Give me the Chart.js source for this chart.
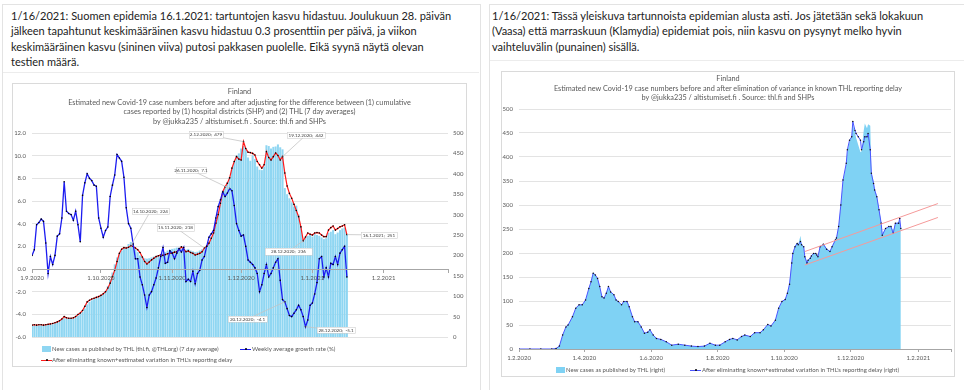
<!DOCTYPE html>
<html>
<head>
<meta charset="utf-8">
<script src="https://cdn.jsdelivr.net/npm/chart.js@4.4.1/dist/chart.umd.min.js"></script>
<style>
  body { margin: 0; width: 964px; height: 390px; overflow: hidden; position: relative; background: #fff; font-family: Lato, sans-serif; }
  .card { position: absolute; border: 1px solid #e3e3e3; background: #fff; }
  .post { position: absolute; font-family: Lato, sans-serif; font-size: 11px; line-height: 15.3px; color: #222; white-space: nowrap; }
  .sep { position: absolute; border-top: 1px solid #ececec; height: 0; }
  .box { position: absolute; box-sizing: border-box; border: 1px solid #dadada; }
  .ttl { position: absolute; text-align: center; color: #595959; font-size: 7.3px; line-height: 10px; white-space: nowrap; }
  .leg { position: absolute; font-size: 6px; line-height: 8px; color: #595959; white-space: nowrap; }
  .sw { position: absolute; }
  canvas { position: absolute; }
</style>
</head>
<body>

<div class="card" style="left:2px;top:4px;width:477px;height:400px"></div>
<div class="card" style="left:489px;top:4px;width:480px;height:400px"></div>

<div class="post" style="left:11px;top:8px">
1/16/2021: Suomen epidemia 16.1.2021: tartuntojen kasvu hidastuu. Joulukuun 28. päivän<br>
jälkeen tapahtunut keskimääräinen kasvu hidastuu 0.3 prosenttiin per päivä, ja viikon<br>
keskimääräinen kasvu (sininen viiva) putosi pakkasen puolelle. Eikä syynä näytä olevan<br>
testien määrä.
</div>
<div class="sep" style="left:3px;top:72px;width:476px"></div>

<div class="post" style="left:492px;top:8px">
1/16/2021: Tässä yleiskuva tartunnoista epidemian alusta asti. Jos jätetään sekä lokakuun<br>
(Vaasa) että marraskuun (Klamydia) epidemiat pois, niin kasvu on pysynyt melko hyvin<br>
vaihteluvälin (punainen) sisällä.
</div>
<div class="sep" style="left:490px;top:60px;width:480px"></div>

<!-- left chart -->
<div class="box" style="left:12px;top:83px;width:455px;height:284px"></div>
<canvas id="leftChart" width="455" height="284" style="left:12px;top:83px"></canvas>
<div class="ttl" style="left:12px;width:455px;top:87px">Finland</div>
<div class="ttl" style="left:12px;width:455px;top:97.5px">Estimated new Covid-19 case numbers before and after adjusting for the difference between (1) cumulative</div>
<div class="ttl" style="left:12px;width:455px;top:107.3px">cases reported by (1) hospital districts (SHP) and (2) THL (7 day averages)</div>
<div class="ttl" style="left:12px;width:455px;top:117.3px">by @jukka235 / altistumiset.fi . Source: thl.fi and SHPs</div>

<div class="sw" style="left:42px;top:346px;width:9px;height:6px;background:#8fd6f2"></div>
<div class="leg" style="left:52px;top:345px">New cases as published by THL (thl.fi, @THLorg) (7 day average)</div>
<div class="sw" style="left:240px;top:348.5px;width:11px;height:1.2px;background:#1c1cf0"></div>
<div class="sw" style="left:244.5px;top:348px;width:2px;height:2px;border-radius:1px;background:#000"></div>
<div class="leg" style="left:252px;top:345px">Weekly average growth rate (%)</div>
<div class="sw" style="left:41px;top:359.5px;width:11px;height:1.2px;background:#ff1a1a"></div>
<div class="sw" style="left:45.5px;top:359px;width:2px;height:2px;border-radius:1px;background:#000"></div>
<div class="leg" style="left:52px;top:356px">After eliminating known+estimated variation in THL's reporting delay</div>

<!-- right chart -->
<div class="box" style="left:501px;top:71px;width:454px;height:306px"></div>
<canvas id="rightChart" width="454" height="306" style="left:501px;top:71px"></canvas>
<div class="ttl" style="left:501px;width:454px;top:74px">Finland</div>
<div class="ttl" style="left:501px;width:454px;top:83.5px">Estimated new Covid-19 case numbers before and after elimination of variance in known THL reporting delay</div>
<div class="ttl" style="left:501px;width:454px;top:93.3px">by @jukka235 / altistumiset.fi . Source: thl.fi and SHPs</div>

<div class="sw" style="left:556px;top:367px;width:9px;height:6px;background:#7fd2f4"></div>
<div class="leg" style="left:566px;top:366px">New cases as published by THL (right)</div>
<div class="sw" style="left:690px;top:369.5px;width:11px;height:1px;background:#4b55ff"></div>
<div class="sw" style="left:694.5px;top:369px;width:2px;height:2px;border-radius:1px;background:#000"></div>
<div class="leg" style="left:702px;top:366px">After eliminating known+estimated variation in THL's reporting delay (right)</div>

<script>
Chart.defaults.font.family = 'Lato';
Chart.defaults.color = '#595959';

// ---------- left chart: days since 1.9.2020 ----------
const thlCases = [
  27, 27, 27, 28, 28, 28, 28, 29, 30, 31,
  33, 35, 38, 42, 46, 45, 44, 44, 45, 48,
  52, 56, 62, 70, 80, 86, 90, 93, 95, 97,
  100, 105, 112, 125, 140, 158, 178, 195, 205, 212,
  216, 220, 228, 233, 224, 215, 208, 200, 196, 193,
  192, 193, 195, 197, 199, 200, 202, 205, 208, 212,
  214, 216, 217, 219, 218, 217, 215, 214, 216, 212,
  210, 208, 209, 212, 215, 218, 224, 232, 245, 260,
  282, 305, 330, 356, 370, 380, 392, 414, 430, 445,
  450, 462, 468, 462, 440, 432, 445, 436, 418, 410,
  409, 418, 470, 468, 462, 466, 467, 472, 465, 460,
  365, 350, 340, 330, 320, 322, 300, 270, 240, 244,
  248, 250, 246, 252, 250, 248, 244, 240, 242, 255,
  258, 262, 252, 256, 262, 266, 268, 250
];
const adjusted = [
  29, 30, 29, 30, 30, 29, 30, 31, 32, 33,
  35, 37, 40, 44, 50, 47, 46, 46, 47, 50,
  55, 59, 65, 75, 86, 90, 93, 95, 97, 99,
  102, 106, 111, 120, 132, 148, 164, 185, 205, 215,
  219, 218, 220, 224, 222, 218, 214, 207, 196, 185,
  179, 184, 189, 193, 197, 199, 201, 200, 202, 204,
  206, 205, 208, 209, 214, 221, 215, 209, 211, 207,
  205, 201, 203, 205, 209, 218, 222, 230, 242, 255,
  279, 300, 328, 356, 368, 377, 390, 414, 430, 442,
  436, 434, 479, 462, 453, 452, 450, 446, 430, 422,
  414, 422, 454, 440, 434, 442, 451, 445, 434, 442,
  402, 370, 352, 340, 325, 310, 295, 270, 236, 245,
  255, 252, 250, 255, 256, 255, 250, 246, 246, 262,
  268, 272, 262, 266, 270, 272, 275, 251
];
const growth = [
  1.2, 1.7, 3.9, 4.1, 4.4, 4.2, 2.3, -0.4, 1.1, 0.4,
  1.2, 2.9, 3.1, 4.5, 7.7, 5.1, 4.9, 4.8, 4.3, 5.1,
  3.9, 2.4, 6.5, 7.6, 8.4, 8.0, 7.8, 7.4, 7.3, 4.5,
  3.6, 2.8, 3.4, 3.7, 6.4, 7.4, 8.3, 10.1, 9.8, 9.5,
  8.1, 5.4, 4.0, 3.6, 2.2, 0.9, 0.9, -0.7, -1.4, -2.3,
  -3.4, -2.3, -2.0, -1.4, -0.8, 0.1, 1.1, 1.9, 0.5, 0.6,
  1.6, 1.4, 0.9, 1.4, 1.8, 1.5, 1.9, -1.1, -0.9, -1.1,
  -0.2, -1.3, -0.4, -0.1, 0.8, 1.1, 2.0, 2.8, 3.1, 3.4,
  4.5, 5.5, 6.1, 6.8, 6.4, 6.7, 7.1, 6.9, 5.6, 4.0,
  3.4, 2.9, 3.0, 2.0, 0.8, 0.6, 0.4, 0.1, -0.4, -2.0,
  -1.4, -0.4, 0.4, -0.7, -0.4, 0.1, 0.6, 0.9, -1.0, -2.7,
  -2.9, -3.5, -4.1, -4.2, -3.9, -3.6, -3.2, -3.6, -4.2, -5.1,
  -4.5, -3.2, -3.0, -2.2, -1.2, 0.9, 1.1, -0.7, 0.1, -0.7,
  0.5, 0.4, 1.1, 0.4, 1.4, 1.7, 2.0, -0.7
];
const daysL = thlCases.map((_, i) => i);
const tickDaysL = [0, 30, 61, 91, 122, 153, 181];
const tickLabelsL = ['1.9.2020', '1.10.2020', '1.11.2020', '1.12.2020', '1.1.2021', '1.2.2021', ''];

// callout labels (day index, series, text)
const calloutsL = [
  { day: 92, series: 'adjusted', text: '2.12.2020;  479' },
  { day: 109, series: 'adjusted', text: '19.12.2020;  442' },
  { day: 86, series: 'growth', text: '26.11.2020;  7.1' },
  { day: 43, series: 'adjusted', text: '14.10.2020;  224' },
  { day: 75, series: 'adjusted', text: '15.11.2020;  218' },
  { day: 118, series: 'adjusted', text: '28.12.2020;  236' },
  { day: 137, series: 'adjusted', text: '16.1.2021;  251' },
  { day: 110, series: 'growth', text: '20.12.2020;  -4.1' },
  { day: 119, series: 'growth', text: '28.12.2020;  -5.1' }
];
// where the label boxes sit on the canvas (x, y, w, h)
const calloutBoxesL = [
  [177, 48, 34, 7], [275, 49, 38, 6], [164, 84, 30, 6],
  [120, 125, 37, 6], [145, 141, 37, 7], [253, 165, 47, 7],
  [349, 149, 36, 6], [216, 233, 39, 6], [305, 244, 38, 6]
];

const seriesL = { adjusted: adjusted, growth: growth };

const calloutPlugin = {
  id: 'callouts',
  afterDraw(chart) {
    const { ctx, scales } = chart;
    ctx.save();
    calloutsL.forEach((c, i) => {
      const [bx, by, bw, bh] = calloutBoxesL[i];
      const ys = c.series === 'growth' ? scales.y : scales.y1;
      const px = scales.x.getPixelForValue(c.day);
      const py = ys.getPixelForValue(seriesL[c.series][c.day]);
      ctx.strokeStyle = '#c4c4c4';
      ctx.lineWidth = 0.8;
      ctx.beginPath();
      ctx.moveTo(bx + bw / 2, by + bh / 2);
      ctx.lineTo(px, py);
      ctx.stroke();
      ctx.fillStyle = '#fff';
      ctx.fillRect(bx, by, bw, bh);
      ctx.strokeStyle = '#cfcfcf';
      ctx.lineWidth = 0.6;
      ctx.strokeRect(bx + 0.5, by + 0.5, bw, bh);
      ctx.fillStyle = '#404040';
      ctx.font = '4.6px Lato';
      ctx.textAlign = 'center';
      ctx.textBaseline = 'middle';
      ctx.fillText(c.text, bx + bw / 2, by + bh / 2 + 0.4);
    });
    ctx.restore();
  }
};

const axisFont = { family: 'Lato', size: 6 };

new Chart(document.getElementById('leftChart'), {
  type: 'bar',
  data: {
    datasets: [
      {
        type: 'line',
        label: 'Weekly average growth rate (%)',
        data: daysL.map((d, i) => ({ x: d, y: growth[i] })),
        yAxisID: 'y',
        borderColor: '#1c1cf0',
        borderWidth: 1.3,
        pointRadius: 0.8,
        pointBackgroundColor: '#000',
        pointBorderWidth: 0,
        order: 1
      },
      {
        type: 'line',
        label: "After eliminating known+estimated variation in THL's reporting delay",
        data: daysL.map((d, i) => ({ x: d, y: adjusted[i] })),
        yAxisID: 'y1',
        borderColor: '#ff1a1a',
        borderWidth: 1.2,
        pointRadius: 0.8,
        pointBackgroundColor: '#000',
        pointBorderWidth: 0,
        order: 2
      },
      {
        type: 'bar',
        label: 'New cases as published by THL (thl.fi, @THLorg) (7 day average)',
        data: daysL.map((d, i) => ({ x: d, y: thlCases[i] })),
        yAxisID: 'y1',
        backgroundColor: '#8fd6f2',
        categoryPercentage: 1,
        barPercentage: 0.88,
        order: 3
      }
    ]
  },
  options: {
    responsive: false,
    animation: false,
    layout: { padding: { top: 50, bottom: 30, left: 0, right: 0 } },
    plugins: { legend: { display: false }, title: { display: false }, tooltip: { enabled: false } },
    scales: {
      x: {
        type: 'linear',
        min: 0,
        max: 181,
        offset: false,
        position: { y: 0 },
        afterBuildTicks: s => { s.ticks = tickDaysL.map(v => ({ value: v })); },
        ticks: {
          z: 1,
          autoSkip: false,
          maxRotation: 0,
          padding: 2,
          font: axisFont,
          callback: v => tickLabelsL[tickDaysL.indexOf(v)]
        },
        grid: { z: 1, drawOnChartArea: false, drawTicks: true, tickLength: 3, color: '#a6a6a6', offset: false },
        border: { z: 1, color: '#a6a6a6' }
      },
      y: {
        position: 'left',
        min: -6,
        max: 12,
        afterFit: s => { s.width = 20; s.paddingTop = 0; s.paddingBottom = 0; },
        ticks: { stepSize: 2, padding: 6, font: axisFont, callback: v => v.toFixed(1) },
        grid: { color: '#e3e3e3', drawTicks: false },
        border: { display: false }
      },
      y1: {
        position: 'right',
        min: 0,
        max: 500,
        afterFit: s => { s.width = 19; s.paddingTop = 0; s.paddingBottom = 0; },
        ticks: { stepSize: 50, padding: 5, font: axisFont },
        grid: { display: false, drawTicks: false },
        border: { display: false }
      }
    }
  },
  plugins: [calloutPlugin]
});

// ---------- right chart: days since 1.2.2020 ----------
const daysR = [
  0, 10, 20, 30, 34, 37, 40, 43, 45, 49, 52, 55, 58, 61, 64, 66, 68, 70, 72, 74,
  76, 78, 80, 82, 84, 87, 89, 91, 94, 96, 99, 101, 104, 106, 109, 112, 115, 118, 120, 123,
  126, 130, 135, 140, 146, 152, 158, 164, 170, 175, 180, 184, 189, 193, 196, 200, 204, 207, 212, 216,
  221, 224, 228, 231, 235, 238, 241, 244, 246, 248, 250, 251, 253, 255, 256, 258, 259, 261, 262, 264,
  265, 267, 268, 270, 272, 273, 274, 276, 279, 282, 285, 287, 290, 291, 293, 295, 297, 300, 301, 303,
  305, 306, 308, 309, 311, 313, 314, 316, 317, 319, 320, 322, 323, 325, 326, 328, 330, 332, 333, 336,
  339, 341, 343, 345, 348, 349, 350
];
const adjustedR = [
  0, 0, 0, 0, 1, 6, 29, 46, 50, 67, 85, 92, 92, 102, 126, 140, 158, 154, 147, 130,
  109, 106, 116, 130, 119, 113, 102, 99, 92, 99, 99, 88, 67, 57, 57, 46, 33, 35, 40, 29,
  22, 20, 15, 8, 10, 8, 6, 5, 6, 12, 8, 8, 15, 20, 22, 19, 26, 29, 26, 34,
  34, 40, 51, 48, 60, 85, 99, 103, 116, 135, 179, 199, 213, 220, 217, 224, 217, 213, 192, 179,
  185, 189, 194, 199, 199, 196, 192, 213, 218, 208, 203, 213, 227, 231, 255, 300, 352, 387, 415, 435,
  442, 474, 455, 449, 442, 435, 415, 432, 442, 442, 449, 415, 366, 345, 331, 317, 290, 262, 237, 251,
  255, 255, 241, 262, 262, 272, 251
];
const publishedR = [
  0, 0, 0, 0, 1, 6, 29, 46, 50, 67, 85, 92, 92, 102, 126, 140, 160, 154, 147, 130,
  109, 106, 116, 132, 119, 113, 102, 99, 92, 99, 99, 88, 67, 57, 57, 46, 33, 35, 40, 29,
  22, 20, 15, 8, 10, 8, 6, 5, 6, 12, 8, 8, 15, 20, 22, 19, 26, 29, 26, 34,
  34, 40, 51, 48, 60, 85, 99, 103, 116, 140, 182, 200, 215, 222, 218, 236, 220, 212, 195, 182,
  186, 190, 195, 200, 198, 196, 192, 214, 220, 210, 204, 214, 228, 232, 256, 300, 350, 385, 412, 432,
  445, 470, 450, 440, 425, 410, 412, 455, 470, 460, 468, 465, 368, 350, 335, 320, 292, 265, 240, 250,
  254, 258, 245, 262, 264, 270, 250
];
// red trend band drawn by the author (start day, end day)
const trendDays = [262, 384];
const trendUpper = [203, 303];
const trendLower = [175, 274];
const tickDaysR = [0, 60, 121, 182, 243, 304, 366, 396];
const tickLabelsR = ['1.2.2020', '1.4.2020', '1.6.2020', '1.8.2020', '1.10.2020', '1.12.2020', '1.2.2021', ''];

new Chart(document.getElementById('rightChart'), {
  type: 'line',
  data: {
    datasets: [
      {
        label: 'upper',
        data: trendDays.map((d, i) => ({ x: d, y: trendUpper[i] })),
        borderColor: '#f59a9a',
        borderWidth: 1,
        pointRadius: 0,
        order: 0
      },
      {
        label: 'lower',
        data: trendDays.map((d, i) => ({ x: d, y: trendLower[i] })),
        borderColor: '#f59a9a',
        borderWidth: 1,
        pointRadius: 0,
        order: 0
      },
      {
        label: "After eliminating known+estimated variation in THL's reporting delay (right)",
        data: daysR.map((d, i) => ({ x: d, y: adjustedR[i] })),
        borderColor: '#4b55ff',
        borderWidth: 1,
        pointRadius: 0.75,
        pointBackgroundColor: '#111',
        pointBorderWidth: 0,
        order: 1
      },
      {
        label: 'New cases as published by THL (right)',
        data: daysR.map((d, i) => ({ x: d, y: publishedR[i] })),
        borderWidth: 0,
        borderColor: 'rgba(0,0,0,0)',
        backgroundColor: '#7fd2f4',
        fill: 'origin',
        pointRadius: 0,
        order: 2
      }
    ]
  },
  options: {
    responsive: false,
    animation: false,
    layout: { padding: { top: 38, bottom: 16, left: 0, right: 2 } },
    plugins: { legend: { display: false }, title: { display: false }, tooltip: { enabled: false } },
    scales: {
      x: {
        type: 'linear',
        min: 0,
        max: 396,
        afterBuildTicks: s => { s.ticks = tickDaysR.map(v => ({ value: v })); },
        afterFit: s => { s.height = 12; },
        ticks: {
          autoSkip: false,
          maxRotation: 0,
          padding: 2,
          font: axisFont,
          callback: v => tickLabelsR[tickDaysR.indexOf(v)]
        },
        grid: { drawOnChartArea: false, drawTicks: true, tickLength: 3, color: '#a6a6a6' },
        border: { color: '#a6a6a6' }
      },
      y: {
        min: 0,
        max: 500,
        afterFit: s => { s.width = 18; s.paddingTop = 0; s.paddingBottom = 0; },
        ticks: { stepSize: 50, padding: 6, font: axisFont },
        grid: { color: '#e3e3e3', drawTicks: false },
        border: { display: false }
      }
    }
  }
});
</script>
</body>
</html>
